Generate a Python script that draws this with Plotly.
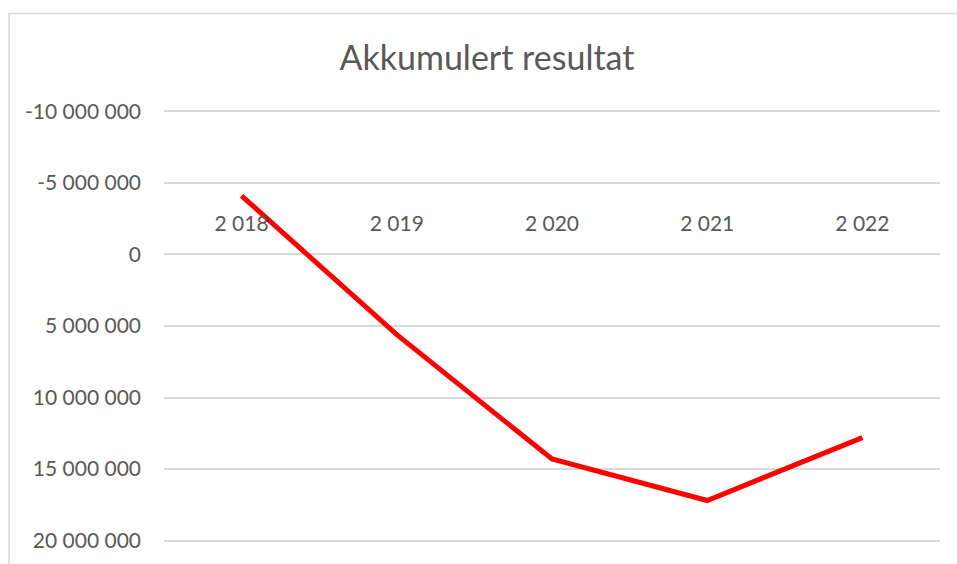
import plotly.graph_objects as go

# data
years = ["2 018", "2 019", "2 020", "2 021", "2 022"]
akkumulert = [-4100000, 5600000, 14300000, 17200000, 12800000]

y_ticks = [-10000000, -5000000, 0, 5000000, 10000000, 15000000, 20000000]
y_labels = [f"{v:,}".replace(",", " ") for v in y_ticks]

GREY_TEXT = "#595959"
GRID = "#d9d9d9"
FONT = "Lato"

W, H = 957, 564
# plotly drops gridlines sitting exactly on the range ends, so pad the range a bit
pad = 100000
y_lo, y_hi = 20000000 + pad, -10000000 - pad
px_per_unit = 432 / 30000000
pad_px = pad * px_per_unit
L, R = 164, 17
T, B = 111 - pad_px, 21 - pad_px
plot_h = H - T - B

fig = go.Figure()
fig.add_trace(go.Scatter(
    x=years, y=akkumulert, mode="lines",
    line=dict(color="#ff0000", width=5), showlegend=False, hoverinfo="skip",
))

# where the value 0 sits, as a fraction of the plot height (reversed axis)
zero_pos = (y_lo - 0) / (y_lo - y_hi)

fig.update_layout(
    width=W, height=H,
    margin=dict(l=L, r=R, t=T, b=B),
    paper_bgcolor="white", plot_bgcolor="white",
    font=dict(family=FONT, color=GREY_TEXT),
    title=dict(
        text="Akkumulert resultat", font=dict(size=34, color=GREY_TEXT, family=FONT),
        x=487 / W, xanchor="center", xref="container",
        y=1 - 58 / H, yanchor="middle", yref="container",
    ),
    xaxis=dict(
        type="category", showgrid=False, showline=False, zeroline=False,
        side="top", anchor="free", position=zero_pos,
        ticks="", ticklabelstandoff=19,
        tickfont=dict(size=21, color=GREY_TEXT, family=FONT),
        range=[-0.5, len(years) - 0.5],
    ),
    yaxis=dict(
        range=[y_lo, y_hi], tickvals=y_ticks, ticktext=y_labels,
        showgrid=True, gridcolor=GRID, gridwidth=1.5,
        zeroline=True, zerolinecolor=GRID, zerolinewidth=1.5,
        showline=False, ticks="", ticklabelstandoff=22,
        tickfont=dict(size=21, color=GREY_TEXT, family=FONT),
    ),
    shapes=[dict(
        type="rect", xref="paper", yref="paper", layer="below",
        x0=(9 - L) / (W - L - R), x1=(975 - L) / (W - L - R),
        y0=-(B + 20) / plot_h, y1=(H - 12.5 - B) / plot_h,
        line=dict(color=GRID, width=1.5), fillcolor="rgba(0,0,0,0)",
    )],
)

# the page body has a default 8px margin; drop it so the figure sits at 0,0
fig.write_html(
    "out.html",
    config={"displayModeBar": False},
    post_script="document.body.style.margin='0';",
)
